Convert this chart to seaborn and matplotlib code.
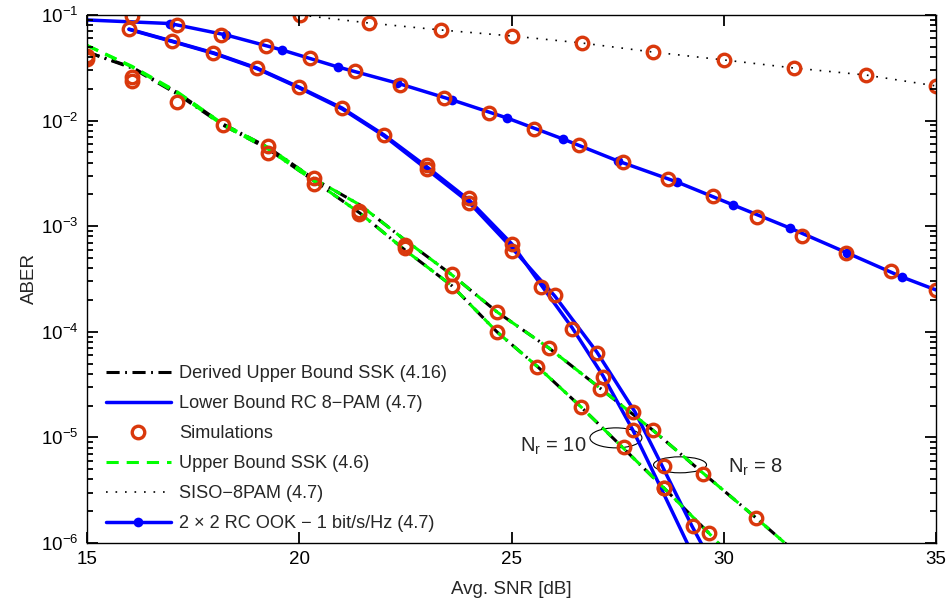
import numpy as np
import seaborn as sns
import matplotlib.pyplot as plt
from matplotlib.lines import Line2D
from matplotlib.patches import Ellipse
from matplotlib.ticker import LogLocator, NullFormatter, NullLocator

# ---- data ----
# SISO-8PAM (4.7)
siso_snr = [20.02, 21.64, 23.34, 25.01, 26.66, 28.33, 30.01, 31.65, 33.35, 35.0]
siso_ber = [0.1, 0.084, 0.0721, 0.0633, 0.0543, 0.0446, 0.0375, 0.0315, 0.027, 0.0213]

# 2x2 RC OOK - 1 bit/s/Hz (4.7)
ook_snr = [15.0, 16.96, 18.27, 19.59, 20.91, 22.30, 23.60, 24.89, 26.21, 27.51,
           28.90, 30.22, 31.56, 32.90, 34.20, 35.0]
ook_ber = [0.0897, 0.083, 0.0648, 0.0467, 0.0322, 0.0227, 0.0157, 0.0106, 0.0067, 0.00414,
           0.00262, 0.00159, 9.6e-4, 5.6e-4, 3.3e-4, 2.49e-4]
ook_sim_snr = [16.05, 17.11, 18.16, 19.21, 20.26, 21.32, 22.37, 23.42, 24.47, 25.53,
               26.58, 27.63, 28.68, 29.74, 30.79, 31.84, 32.89, 33.95, 35.0]
ook_sim_ber = [0.098, 0.0804, 0.0647, 0.0508, 0.0392, 0.0295, 0.0217, 0.0164, 0.0118, 0.00832,
               0.00587, 0.00405, 0.0028, 0.00193, 0.00122, 8.07e-4, 5.57e-4, 3.77e-4, 2.49e-4]

# Lower Bound RC 8-PAM (4.7), Nr = 10 and Nr = 8
rc10_snr = [15.99, 17.0, 17.99, 19.0, 19.99, 21.01, 22.0, 23.01, 24.0, 25.01,
            25.70, 26.43, 27.16, 27.86, 28.52, 29.16]
rc10_ber = [0.0736, 0.0567, 0.0437, 0.0315, 0.0208, 0.01315, 0.00731, 0.00364, 0.00177, 6.78e-4,
            2.77e-4, 1.09e-4, 3.81e-5, 1.17e-5, 3.32e-6, 9.6e-7]
rc8_snr = [15.99, 17.0, 17.99, 19.0, 19.99, 21.01, 22.0, 23.01, 24.0, 25.01,
           26.02, 27.01, 27.91, 28.55, 29.25, 29.49]
rc8_ber = [0.0730, 0.0562, 0.0432, 0.0311, 0.0205, 0.0129, 0.00715, 0.00345, 0.00168, 6.22e-4,
           2.18e-4, 6.44e-5, 1.74e-5, 5.36e-6, 1.45e-6, 9.6e-7]
rc_sim_snr = [15.99, 17.0, 17.97, 19.0, 19.99, 21.0, 22.0, 23.0, 23.0, 24.0, 24.0, 25.0, 25.0,
              25.70, 26.43, 27.16, 27.86, 28.59,
              26.02, 27.01, 27.86, 28.59, 29.28]
rc_sim_ber = [0.0736, 0.0567, 0.0437, 0.0315, 0.0208, 0.01315, 0.00731, 0.00379, 0.00349,
              0.00185, 0.00166, 6.78e-4, 5.8e-4,
              2.65e-4, 1.06e-4, 3.73e-5, 1.17e-5, 3.32e-6,
              2.23e-4, 6.30e-5, 1.74e-5, 5.36e-6, 1.45e-6]

# SSK bounds, Nr = 10 and Nr = 8 (derived = black, upper = green)
ssk10_snr = [15.0, 16.06, 17.12, 18.20, 19.26, 20.35, 21.43, 22.49, 23.60, 24.66,
             25.62, 26.64, 27.63, 28.59, 29.65, 29.91]
ssk10_ber = [0.0446, 0.0315, 0.0179, 0.00908, 0.00539, 0.00268, 0.00133, 5.95e-4, 2.72e-4, 9.96e-5,
             4.65e-5, 1.94e-5, 7.94e-6, 3.32e-6, 1.24e-6, 9.6e-7]
ub10_ber = [0.0515, 0.0322, 0.0182, 0.00908, 0.00539, 0.00268, 0.00133, 5.95e-4, 2.72e-4, 9.96e-5,
            4.65e-5, 1.94e-5, 7.94e-6, 3.32e-6, 1.24e-6, 9.6e-7]
ssk8_snr = [15.0, 16.06, 17.12, 18.20, 19.26, 20.35, 21.43, 22.49, 23.60, 24.66,
            25.88, 27.08, 28.33, 29.51, 30.76, 31.49]
ssk8_ber = [0.0446, 0.0320, 0.0185, 0.0093, 0.0056, 0.00280, 0.00159, 7.4e-4, 3.45e-4, 1.54e-4,
            7.03e-5, 2.94e-5, 1.17e-5, 4.6e-6, 1.73e-6, 9.6e-7]
ub8_ber = [0.0515, 0.0327, 0.0188, 0.0093, 0.0056, 0.00280, 0.00159, 7.4e-4, 3.45e-4, 1.54e-4,
           7.03e-5, 2.94e-5, 1.17e-5, 4.6e-6, 1.73e-6, 9.6e-7]
ssk_sim_snr = [15.0, 15.0, 16.06, 16.06, 17.12, 18.20, 19.26, 19.26, 20.35, 20.35,
               21.41, 21.41, 22.49, 22.49, 23.60, 23.60, 24.66, 24.66,
               25.88, 27.08, 28.33, 29.51, 30.76,
               25.60, 26.64, 27.65, 28.59, 29.65]
ssk_sim_ber = [0.041, 0.038, 0.0259, 0.0237, 0.0150, 0.00908, 0.00574, 0.00493, 0.00286, 0.00251,
               0.00139, 0.00130, 6.6e-4, 6.2e-4, 3.53e-4, 2.72e-4, 1.54e-4, 9.96e-5,
               7.03e-5, 2.87e-5, 1.17e-5, 4.5e-6, 1.73e-6,
               4.65e-5, 1.94e-5, 8.11e-6, 3.32e-6, 1.24e-6]

legend_labels = ["Derived Upper Bound SSK (4.16)", "Lower Bound RC 8\u2212PAM (4.7)", "Simulations",
                 "Upper Bound SSK (4.6)", "SISO\u22128PAM (4.7)",
                 "2 \u00d7 2 RC OOK \u2212 1 bit/s/Hz (4.7)"]

# ---- style ----
sns.set_style("ticks")
plt.rcParams["font.family"] = ["Liberation Sans", "DejaVu Sans"]
plt.rcParams["mathtext.fontset"] = "custom"
plt.rcParams["mathtext.rm"] = "Liberation Sans"
plt.rcParams["mathtext.it"] = "Liberation Sans:italic"
plt.rcParams["mathtext.bf"] = "Liberation Sans:bold"
plt.rcParams["xtick.direction"] = "in"
plt.rcParams["ytick.direction"] = "in"
plt.rcParams["xtick.color"] = "black"
plt.rcParams["ytick.color"] = "black"

BLUE = "#0000ff"
GREEN = "#00ff00"
RED = "#d9380c"
FS = 13.5

fig = plt.figure(figsize=(9.52, 6.07), dpi=100)
ax = fig.add_axes([87 / 952, 1 - 543 / 607, 849 / 952, 528 / 607])

dashdot = (4.3, 1.8, 0.6, 1.8)
dashed = (4.0, 2.6)
dotted = (1.0, 4.7)
LW = 2.5

for xs, ys in [(ssk10_snr, ssk10_ber), (ssk8_snr, ssk8_ber)]:
    sns.lineplot(x=xs, y=ys, ax=ax, sort=False, estimator=None, color="k", lw=2.2, dashes=dashdot)
for xs, ys in [(rc10_snr, rc10_ber), (rc8_snr, rc8_ber)]:
    sns.lineplot(x=xs, y=ys, ax=ax, sort=False, estimator=None, color=BLUE, lw=LW)
for xs, ys in [(ssk10_snr, ub10_ber), (ssk8_snr, ub8_ber)]:
    sns.lineplot(x=xs, y=ys, ax=ax, sort=False, estimator=None, color=GREEN, lw=2.2, dashes=dashed)
sns.lineplot(x=siso_snr, y=siso_ber, ax=ax, sort=False, estimator=None, color="k", lw=1.2,
             dashes=dotted)
sns.lineplot(x=ook_snr, y=ook_ber, ax=ax, sort=False, estimator=None, color=BLUE, lw=LW,
             marker="o", ms=7, mec=BLUE, mew=0, markevery=list(range(1, len(ook_snr) - 1)))

for xs, ys in [(ook_sim_snr, ook_sim_ber), (rc_sim_snr, rc_sim_ber),
               (ssk_sim_snr, ssk_sim_ber), (siso_snr, siso_ber)]:
    sns.lineplot(x=xs, y=ys, ax=ax, sort=False, estimator=None, color=RED, ls="none",
                 marker="o", ms=9, mfc="none", mec=RED, mew=2.4)

ax.set_yscale("log")
ax.set_xlim(15, 35)
ax.set_ylim(1e-6, 1e-1)
ax.set_xticks([15, 20, 25, 30, 35])
ax.xaxis.set_minor_locator(NullLocator())
ax.yaxis.set_minor_locator(LogLocator(base=10, subs=np.arange(2, 10), numticks=12))
ax.yaxis.set_minor_formatter(NullFormatter())
ax.set_axisbelow(False)
for axis in ("x", "y"):
    ax.tick_params(axis=axis, which="both", direction="in", bottom=True, top=True,
                   left=True, right=True, labelsize=FS, width=1.3, color="black")
ax.tick_params(axis="both", which="major", length=8, pad=6)
ax.tick_params(axis="both", which="minor", length=4.5)
for s in ax.spines.values():
    s.set_linewidth(1.0)
    s.set_color("k")
ax.set_xlabel("Avg. SNR [dB]", fontsize=FS, labelpad=9)
ax.set_ylabel("ABER", fontsize=FS, labelpad=2)

# N_r annotations
def ell(x, y, w, h):
    cx, cy = ax.transAxes.inverted().transform(ax.transData.transform((x, y)))
    ax.add_patch(Ellipse((cx, cy), w, h, transform=ax.transAxes, fill=False, ec="k", lw=0.8))

ell(27.46, 9.9e-6, 52 / 849, 20 / 528)
ell(28.97, 5.5e-6, 53 / 849, 16 / 528)
ax.text(25.98, 8.2e-6, "N$_\\mathrm{r}$ = 10", fontsize=FS + 1, ha="center", va="center")
ax.text(30.74, 5.2e-6, "N$_\\mathrm{r}$ = 8", fontsize=FS + 1, ha="center", va="center")

handles = [
    Line2D([], [], color="k", lw=2.2, dashes=dashdot),
    Line2D([], [], color=BLUE, lw=LW),
    Line2D([], [], color=RED, ls="none", marker="o", ms=9, mfc="none", mec=RED, mew=2.4),
    Line2D([], [], color=GREEN, lw=2.2, dashes=dashed),
    Line2D([], [], color="k", lw=1.2, dashes=dotted),
    Line2D([], [], color=BLUE, lw=LW, marker="o", ms=7, mew=0),
]
ax.legend(handles, legend_labels, loc="lower left", bbox_to_anchor=(0.022, 0.02), frameon=False,
          fontsize=13.1, handlelength=3.6, handletextpad=0.45, labelspacing=0.72,
          borderpad=0, borderaxespad=0)

fig.savefig("out.png", dpi=100)
